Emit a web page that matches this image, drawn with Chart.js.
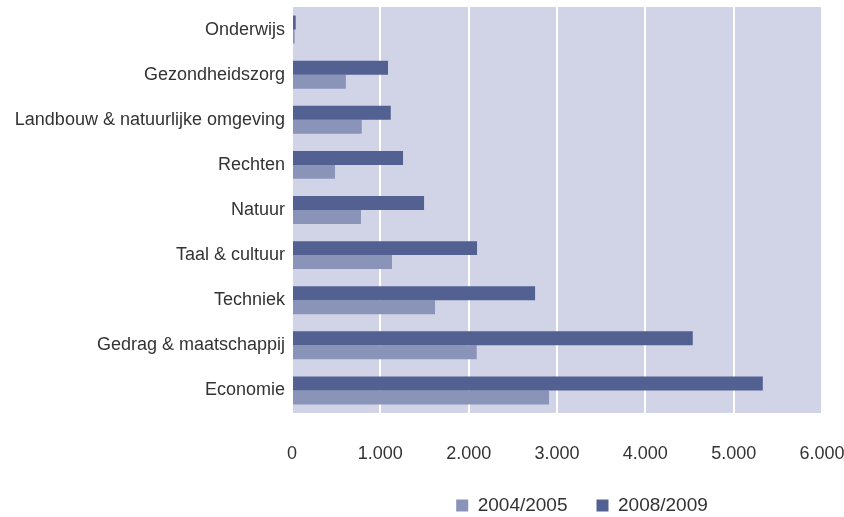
<!DOCTYPE html>
<html>
<head>
<meta charset="utf-8">
<script src="https://cdn.jsdelivr.net/npm/chart.js@4/dist/chart.umd.min.js"></script>
<style>
  html, body { margin: 0; padding: 0; background: #fff; }
  #wrap { width: 844px; height: 517px; }
</style>
</head>
<body>
<div id="wrap"><canvas id="chart"></canvas></div>
<script>
// categories, top to bottom
var categories = ['Onderwijs', 'Gezondheidszorg', 'Landbouw & natuurlijke omgeving', 'Rechten',
  'Natuur', 'Taal & cultuur', 'Techniek', 'Gedrag & maatschappij', 'Economie'];
var values20042005 = [30, 610, 790, 487, 781, 1132, 1619, 2091, 2910];
var values20082009 = [42, 1087, 1118, 1257, 1495, 2095, 2752, 4537, 5330];
var xTicks = [0, 1000, 2000, 3000, 4000, 5000, 6000];

function dots(n) {
  return String(n).replace(/\B(?=(\d{3})+(?!\d))/g, '.');
}

// lavender plot background
var plotBg = {
  id: 'plotBg',
  beforeDraw: function (chart) {
    var a = chart.chartArea;
    var ctx = chart.ctx;
    ctx.save();
    ctx.fillStyle = '#d0d4e6';
    ctx.fillRect(a.left, a.top, a.right - a.left, a.bottom - a.top);
    ctx.restore();
  }
};

// nudge the legend right and down, like the original
var legendShift = {
  id: 'legendShift',
  afterLayout: function (chart) {
    var l = chart.legend;
    if (l) {
      l.left += 171;
      l.right += 171;
      l.top += 8;
      l.bottom += 8;
    }
  }
};

Chart.defaults.font.family = '"Liberation Sans", Arial, sans-serif';
Chart.defaults.color = '#333';

new Chart(document.getElementById('chart'), {
  type: 'bar',
  data: {
    labels: categories,
    datasets: [
      { label: '2008/2009', data: values20082009, backgroundColor: '#526192' },
      { label: '2004/2005', data: values20042005, backgroundColor: '#8a94b8' }
    ]
  },
  options: {
    indexAxis: 'y',
    responsive: true,
    maintainAspectRatio: false,
    animation: false,
    layout: { padding: { top: 7, right: 22, left: 0, bottom: 0 } },
    datasets: { bar: { categoryPercentage: 0.62, barPercentage: 1 } },
    plugins: {
      legend: {
        position: 'bottom',
        labels: {
          boxWidth: 12,
          boxHeight: 12,
          padding: 29,
          font: { size: 19 },
          sort: function (a, b) { return b.datasetIndex - a.datasetIndex; }
        }
      },
      tooltip: { enabled: false }
    },
    scales: {
      x: {
        min: 0,
        max: 6000,
        afterBuildTicks: function (scale) {
          scale.ticks = xTicks.map(function (v) { return { value: v }; });
        },
        afterFit: function (scale) {
          scale.height = 46;
          scale.paddingLeft = 0;
          scale.paddingRight = 0;
        },
        grid: { color: '#ffffff', lineWidth: 2, drawTicks: false, drawOnChartArea: true },
        border: { display: false },
        ticks: {
          padding: 30,
          font: { size: 18 },
          callback: function (v) { return dots(v); }
        }
      },
      y: {
        afterFit: function (scale) {
          scale.width = 292;
          scale.paddingTop = 0;
          scale.paddingBottom = 0;
        },
        grid: { display: false, drawTicks: false, tickLength: 0 },
        border: { display: false },
        ticks: { padding: 7, font: { size: 18 } }
      }
    }
  },
  plugins: [plotBg, legendShift]
});
</script>
</body>
</html>
